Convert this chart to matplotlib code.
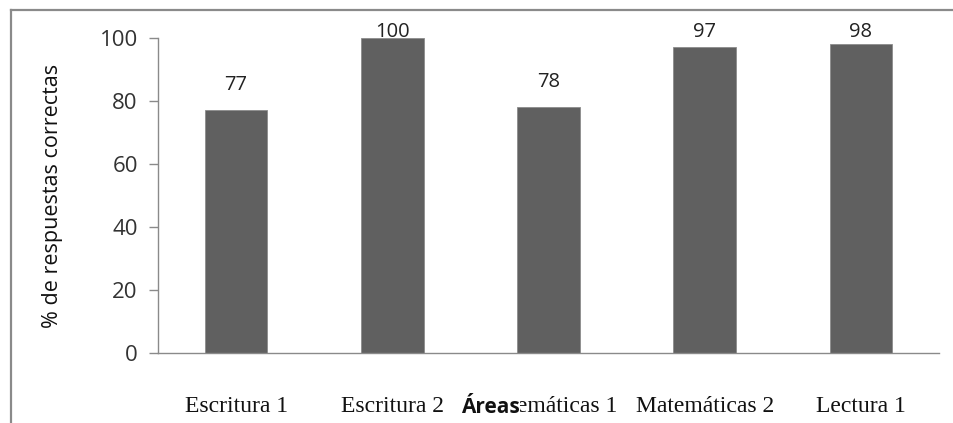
import numpy as np
import matplotlib
matplotlib.use('Agg')
import matplotlib.pyplot as plt
from matplotlib.lines import Line2D

# datos del grafico
areas = ['Escritura 1', 'Escritura 2', 'Matemáticas 1', 'Matemáticas 2', 'Lectura 1']
porcentajes = [77, 100, 78, 97, 98]

fig = plt.figure(figsize=(9.54, 4.23), dpi=100)
ax = fig.add_axes([158/954, 1 - 353/423, 781/954, 315/423])

x = np.arange(len(areas))
ax.bar(x, porcentajes, width=0.4, color='#606060', edgecolor='#8c8c8c', linewidth=0.6, zorder=2)

# etiquetas de valores (Excel las deja dentro del area de trazado)
for xi, v in zip(x, porcentajes):
    ax.text(xi, min(v + 8, 102), str(v), ha='center', va='center',
            fontsize=14.5, family='Open Sans', color='#222222', clip_on=False)

ax.set_xlim(-0.5, len(areas) - 0.5)
ax.set_ylim(0, 100)
ax.set_yticks([0, 20, 40, 60, 80, 100])

for s in ['top', 'right']:
    ax.spines[s].set_visible(False)
ax.spines['left'].set_color('#8a8a8a')
ax.spines['bottom'].set_color('#8a8a8a')
ax.spines['left'].set_linewidth(1.0)
ax.spines['bottom'].set_linewidth(1.0)

ax.tick_params(axis='y', length=6.5, width=1.0, color='#8a8a8a', pad=8,
               labelsize=16, labelcolor='#333333')
for t in ax.get_yticklabels():
    t.set_family('Open Sans')

ax.set_xticks(x)
ax.set_xticklabels(areas, family='Liberation Serif', fontsize=17, color='#111111')
ax.tick_params(axis='x', length=0, pad=31)

ax.set_ylabel('% de respuestas correctas', family='Open Sans', fontsize=15.5,
              color='#111111')
ax.yaxis.set_label_coords(-0.122, 0.5)

# el titulo del eje tapa parte de la etiqueta de Matematicas 1, como en el original
ax.set_xlabel('Áreas', family='Open Sans', fontsize=15, fontweight='bold', color='#111111',
              bbox=dict(facecolor='white', edgecolor='none', pad=0.5))
ax.xaxis.set_label_coords(0.425, -0.14)

# borde del grafico (esquina superior izquierda)
fig.add_artist(Line2D([11/954, 11/954], [0, 1 - 10/423], transform=fig.transFigure,
                      color='#8a8a8a', linewidth=1.6))
fig.add_artist(Line2D([11/954, 1], [1 - 10/423, 1 - 10/423], transform=fig.transFigure,
                      color='#8a8a8a', linewidth=1.6))

fig.savefig('out.png', dpi=100)
